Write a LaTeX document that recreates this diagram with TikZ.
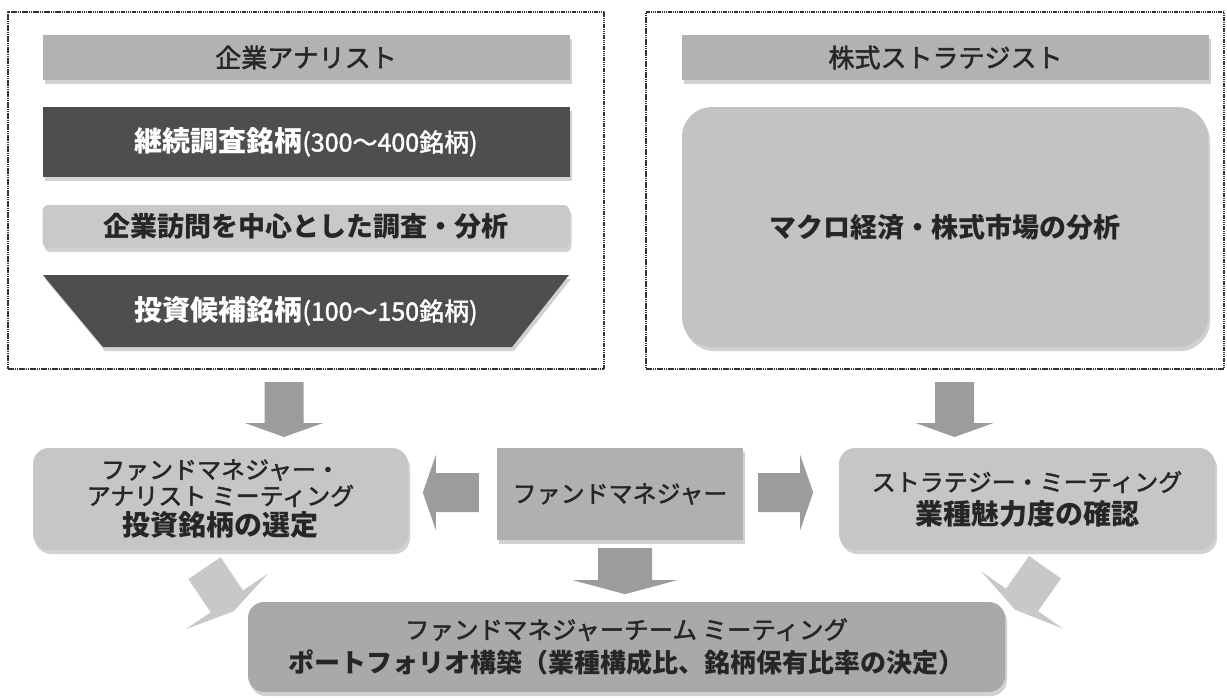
\documentclass[tikz,border=0pt]{standalone}
\usepackage{fontspec}
\newfontfamily\jp{Noto Sans CJK JP}
\newfontfamily\jpmed{Noto Sans CJK JP}[FakeBold=1.8]
\usetikzlibrary{shadows,calc}
\definecolor{headgray}{HTML}{B2B2B2}
\definecolor{darkbar}{HTML}{4E4E4E}
\definecolor{lightbar}{HTML}{C9C9C9}
\definecolor{macrogray}{HTML}{C3C3C3}
\definecolor{meetgray}{HTML}{C6C6C6}
\definecolor{fmgray}{HTML}{B0B0B0}
\definecolor{teamgray}{HTML}{A9A9A9}
\definecolor{arrowgray}{HTML}{9C9C9C}
\definecolor{diaggray}{HTML}{C8C8C8}
\definecolor{ink}{HTML}{262626}
\newcommand\mfont[1][24]{\jpmed\mdseries\fontsize{#1}{#1}\selectfont}
\newcommand\bfont[1][28]{\jp\bfseries\fontsize{#1}{#1}\selectfont}
% fat arrow: start, angle, shaft half, length, head half, head height, colour
\newcommand\fatarrow[7]{\fill[#7,shift={#1},rotate=#2] (-#3,0)--(#3,0)--(#3,#4)--(#5,#4)--(0,#4+#6)--(-#5,#4)--(-#3,#4)--cycle;}
\begin{document}
\begin{tikzpicture}[x=1pt,y=-1pt,line join=round,font=\jp,
	dashframe/.style={draw=black!80,dash pattern=on 1.5pt off .7pt,line width=2pt,inner sep=0},
	shadowed/.style={drop shadow={shadow xshift=2pt,shadow yshift=-4pt,fill=black!40,opacity=.45}},
	bar/.style={shadowed,minimum width=527,minimum height=#1,inner sep=0},
	meet/.style={shadowed,fill=meetgray,rounded corners=16,inner sep=0,align=center,text=ink}]
	\useasboundingbox (0,0) rectangle (1227,697);
	\node[dashframe,minimum width=596,minimum height=357] (anaframe) at (306,190.5) {};
	\node[dashframe,minimum width=578,minimum height=357] (strframe) at (935,190.5) {};
	\node[bar=45,fill=headgray,text=ink] (anahead) at (306,57.5) {\mfont[26]企業アナリスト};
	\node[bar=70,fill=darkbar,text=white] (cover) at (306,142) {\bfont 継続調査銘柄\mfont[25](300〜400銘柄)};
	\node[bar=43,fill=lightbar,rounded corners=6,text=ink] (visit) at (306,226.5) {\bfont[27]企業訪問を中心とした調査・分析};
	\fill[darkbar,shadowed] (43,275)--(569,275)--(512,347)--(103,347)--cycle;
	\node[text=white] (cand) at (306,311) {\bfont 投資候補銘柄\mfont[25](100〜150銘柄)};
	\node[bar=45,fill=headgray,text=ink] (strhead) at (945.5,57.5) {\mfont[26]株式ストラテジスト};
	\node[shadowed,fill=macrogray,rounded corners=30,minimum width=526,minimum height=240,text=ink] (macro) at (945,227) {\bfont[27]マクロ経済・株式市場の分析};
	\node[meet,minimum width=375,minimum height=102] (fmana) at (220.5,499) {\mfont ファンドマネジャー・\\[3pt]\mfont アナリスト ミーティング\\[4pt]\bfont 投資銘柄の選定};
	\node[shadowed,fill=fmgray,minimum width=246,minimum height=92,inner sep=0,text=ink] (fm) at (620,494) {\mfont ファンドマネジャー};
	\node[meet,minimum width=376,minimum height=102] (strat) at (1027,499) {\mfont ストラテジー・ミーティング\\[6pt]\bfont 業種魅力度の確認};
	\node[meet,fill=teamgray,minimum width=757,minimum height=90] (team) at (626.5,647) {\mfont[24.5]ファンドマネジャーチーム ミーティング\\[8pt]\bfont[26]ポートフォリオ構築（業種構成比、銘柄保有比率の決定）};
	\fatarrow{($(anaframe.south)+(-22,12)$)}{0}{19.5}{41}{39}{14}{arrowgray}
	\fatarrow{($(strframe.south)+(19.5,12)$)}{0}{19.5}{41}{39}{14}{arrowgray}
	\fatarrow{($(fm.south)+(5,8)$)}{0}{27}{32}{52}{14}{arrowgray}
	\fatarrow{($(fm.west)+(-18,-1.5)$)}{-90}{19.5}{43}{37.5}{13}{arrowgray}
	\fatarrow{($(fm.east)+(15,-1.5)$)}{90}{19.5}{42}{37.5}{13}{arrowgray}
	\fatarrow{($(fmana.south)+(-16,18)$)}{34}{19.5}{40}{50}{12}{diaggray}
	\fatarrow{($(strat.south)+(18,17)$)}{-35}{19.5}{40}{50}{12}{diaggray}
\end{tikzpicture}
\end{document}
